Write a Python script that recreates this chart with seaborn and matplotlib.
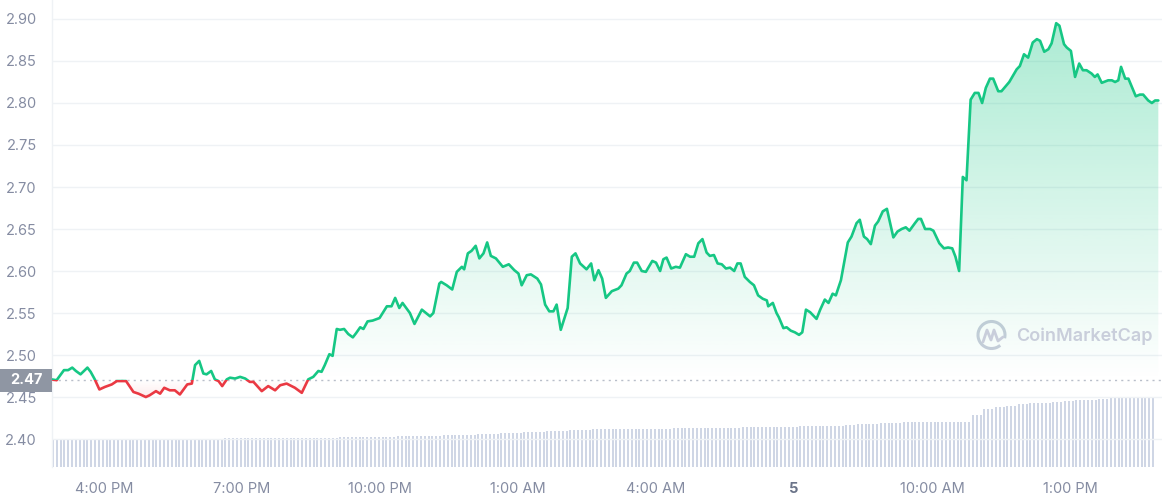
import numpy as np
import matplotlib
matplotlib.use("Agg")
import matplotlib.pyplot as plt
import matplotlib.transforms as mtransforms
from matplotlib.patches import Rectangle, Polygon, Arc
from matplotlib.lines import Line2D
import seaborn as sns

# price, hours counted from 4:00 PM
hours = [-1.14, -1.03, -0.87, -0.78, -0.69, -0.61, -0.51, -0.36, -0.29, -0.20,
         -0.10, 0.02, 0.17, 0.28, 0.36, 0.48, 0.64, 0.75, 0.91, 0.99,
         1.13, 1.22, 1.31, 1.43, 1.54, 1.65, 1.81, 1.91, 1.98, 2.07,
         2.16, 2.23, 2.33, 2.41, 2.49, 2.57, 2.67, 2.74, 2.85, 2.96,
         3.07, 3.17, 3.25, 3.43, 3.57, 3.72, 3.83, 3.97, 4.15, 4.30,
         4.44, 4.55, 4.66, 4.73, 4.80, 4.90, 4.97, 5.06, 5.13, 5.22,
         5.31, 5.41, 5.48, 5.57, 5.64, 5.73, 5.84, 5.99, 6.15, 6.25,
         6.33, 6.42, 6.49, 6.65, 6.75, 6.91, 7.00, 7.09, 7.16, 7.29,
         7.33, 7.45, 7.57, 7.67, 7.78, 7.83, 7.91, 7.99, 8.08, 8.16,
         8.25, 8.33, 8.41, 8.52, 8.67, 8.80, 8.92, 9.01, 9.08, 9.19,
         9.28, 9.42, 9.50, 9.59, 9.68, 9.77, 9.84, 9.93, 10.00, 10.08,
         10.17, 10.25, 10.35, 10.49, 10.59, 10.66, 10.75, 10.83, 10.91, 11.04,
         11.18, 11.25, 11.36, 11.43, 11.52, 11.59, 11.69, 11.78, 11.92, 12.00,
         12.09, 12.16, 12.23, 12.33, 12.43, 12.52, 12.65, 12.74, 12.83, 12.92,
         13.01, 13.10, 13.17, 13.26, 13.34, 13.43, 13.52, 13.61, 13.70, 13.77,
         13.84, 13.93, 14.04, 14.13, 14.22, 14.32, 14.41, 14.44, 14.54, 14.62,
         14.67, 14.77, 14.84, 14.93, 15.02, 15.11, 15.18, 15.26, 15.35, 15.49,
         15.57, 15.67, 15.75, 15.84, 15.91, 16.02, 16.17, 16.25, 16.36, 16.43,
         16.52, 16.59, 16.67, 16.76, 16.83, 16.93, 17.02, 17.16, 17.25, 17.34,
         17.43, 17.51, 17.63, 17.70, 17.76, 17.85, 17.96, 18.03, 18.16, 18.26,
         18.35, 18.44, 18.51, 18.59, 18.67, 18.75, 18.84, 18.93, 19.01, 19.09,
         19.17, 19.26, 19.33, 19.44, 19.51, 19.68, 19.84, 19.91, 20.00, 20.09,
         20.19, 20.28, 20.35, 20.44, 20.53, 20.60, 20.70, 20.77, 20.87, 20.93,
         21.02, 21.11, 21.20, 21.28, 21.36, 21.47, 21.54, 21.60, 21.69, 21.83,
         21.91, 21.98, 22.05, 22.11, 22.20, 22.27, 22.43, 22.52, 22.59, 22.70,
         22.78, 22.85, 22.92]

price = [2.471, 2.470, 2.482, 2.482, 2.485, 2.481, 2.477, 2.485, 2.480, 2.471,
         2.459, 2.462, 2.465, 2.469, 2.469, 2.469, 2.456, 2.454, 2.450, 2.452,
         2.457, 2.454, 2.461, 2.458, 2.458, 2.453, 2.465, 2.466, 2.488, 2.493,
         2.478, 2.477, 2.481, 2.471, 2.469, 2.463, 2.471, 2.473, 2.472, 2.474,
         2.472, 2.468, 2.468, 2.457, 2.463, 2.458, 2.464, 2.466, 2.461, 2.455,
         2.471, 2.474, 2.481, 2.480, 2.488, 2.501, 2.499, 2.531, 2.530, 2.531,
         2.525, 2.521, 2.526, 2.533, 2.531, 2.540, 2.541, 2.544, 2.558, 2.558,
         2.568, 2.556, 2.562, 2.550, 2.537, 2.554, 2.550, 2.546, 2.550, 2.585,
         2.587, 2.583, 2.578, 2.599, 2.605, 2.602, 2.621, 2.624, 2.630, 2.615,
         2.621, 2.634, 2.618, 2.615, 2.605, 2.608, 2.601, 2.597, 2.583, 2.595,
         2.596, 2.591, 2.584, 2.560, 2.552, 2.552, 2.560, 2.530, 2.542, 2.556,
         2.617, 2.621, 2.609, 2.602, 2.609, 2.589, 2.601, 2.591, 2.568, 2.576,
         2.579, 2.583, 2.597, 2.600, 2.610, 2.610, 2.600, 2.599, 2.612, 2.610,
         2.600, 2.614, 2.616, 2.603, 2.605, 2.604, 2.620, 2.617, 2.617, 2.633,
         2.638, 2.622, 2.618, 2.619, 2.609, 2.608, 2.603, 2.604, 2.600, 2.609,
         2.609, 2.593, 2.587, 2.583, 2.571, 2.567, 2.565, 2.558, 2.562, 2.550,
         2.545, 2.532, 2.533, 2.529, 2.527, 2.524, 2.527, 2.554, 2.551, 2.543,
         2.554, 2.566, 2.562, 2.573, 2.571, 2.589, 2.634, 2.641, 2.657, 2.661,
         2.641, 2.638, 2.632, 2.654, 2.659, 2.671, 2.674, 2.640, 2.647, 2.650,
         2.652, 2.648, 2.657, 2.662, 2.662, 2.650, 2.650, 2.648, 2.633, 2.627,
         2.628, 2.627, 2.617, 2.600, 2.712, 2.708, 2.804, 2.812, 2.812, 2.800,
         2.818, 2.829, 2.829, 2.814, 2.814, 2.825, 2.840, 2.844, 2.858, 2.854,
         2.872, 2.876, 2.874, 2.861, 2.864, 2.871, 2.895, 2.892, 2.870, 2.866,
         2.862, 2.831, 2.847, 2.839, 2.839, 2.835, 2.831, 2.834, 2.824, 2.827,
         2.827, 2.825, 2.827, 2.843, 2.829, 2.829, 2.808, 2.810, 2.810, 2.803,
         2.800, 2.803, 2.803]

open_price = 2.47

# volume (arbitrary units), one reading per quarter hour, bars are 5 min
volume_quarter = [277, 277, 277, 277, 277, 277, 277, 277, 277, 277,
                  277, 277, 277, 277, 285, 287, 290, 290, 290, 290,
                  290, 290, 290, 290, 293, 300, 303, 303, 303, 305,
                  308, 308, 310, 314, 320, 322, 325, 330, 335, 338,
                  342, 348, 355, 358, 362, 368, 375, 376, 378, 380,
                  383, 384, 385, 385, 386, 387, 388, 390, 393, 395,
                  396, 400, 403, 404, 405, 406, 408, 410, 412, 425,
                  432, 434, 436, 442, 447, 449, 450, 450, 450, 455,
                  520, 580, 605, 615, 628, 636, 645, 652, 660, 666,
                  672, 680, 688, 692, 695, 697]

tick_hours = [0, 3, 6, 9, 12, 15, 18, 21]
tick_labels = ["4:00 PM", "7:00 PM", "10:00 PM", "1:00 AM", "4:00 AM", "5", "10:00 AM", "1:00 PM"]
price_ticks = [2.40, 2.45, 2.50, 2.55, 2.60, 2.65, 2.70, 2.75, 2.80, 2.85, 2.90]

GREEN = "#16c784"
RED = "#ea3943"
LABEL = "#858ca2"

sns.set_style("white")
plt.rcParams["font.family"] = ["Inter", "DejaVu Sans"]

W, H = 1162, 500
fig = plt.figure(figsize=(W / 100, H / 100), dpi=100)
ax = fig.add_axes([52 / W, 33 / H, 1 - 52 / W, 467 / H])

xmin, xmax = -1.13, 23.0
ymin, ymax = 2.3667, 2.9226

# volume on a twin axis, bottom band
ax2 = ax.twinx()
bar_hours = -1.11 + np.arange(len(volume_quarter) * 3) / 12
vol = np.repeat(volume_quarter, 3)
ax2.bar(bar_hours, vol, width=0.042, color="#cfd6e5", linewidth=0, zorder=1)
ax2.set_ylim(0, 4670)
ax2.set_yticks([])
for s in ax2.spines.values():
    s.set_visible(False)
ax.set_zorder(ax2.get_zorder() + 1)
ax.patch.set_visible(False)

# gradient fill between price line and open price
x = np.array(hours)
y = np.array(price)
ys = np.linspace(ymin, ymax, 600)
grad = np.zeros((len(ys), 1, 4))
up = ys >= open_price
g = matplotlib.colors.to_rgb(GREEN)
r = matplotlib.colors.to_rgb(RED)
grad[up, 0, :3] = g
grad[up, 0, 3] = 0.36 * (ys[up] - open_price) / (2.90 - open_price)
grad[~up, 0, :3] = r
grad[~up, 0, 3] = np.clip(0.10 * (open_price - ys[~up]) / 0.02, 0, 0.10)
im = ax.imshow(grad, extent=[xmin, xmax, ymin, ymax], aspect="auto",
               origin="lower", zorder=1, interpolation="bilinear")
poly = Polygon([(x[0], open_price)] + list(zip(x, y)) + [(x[-1], open_price)],
               closed=True, transform=ax.transData, facecolor="none", edgecolor="none")
ax.add_patch(poly)
im.set_clip_path(poly)

# price line, green above the open and red below
sns.lineplot(x=x, y=y, color=GREEN, linewidth=1.9, ax=ax, zorder=3)
ln_up = ax.lines[-1]
sns.lineplot(x=x, y=y, color=RED, linewidth=1.9, ax=ax, zorder=3)
ln_dn = ax.lines[-1]
clip_up = Rectangle((xmin, open_price), xmax - xmin, ymax - open_price, transform=ax.transData)
clip_dn = Rectangle((xmin, ymin), xmax - xmin, open_price - ymin, transform=ax.transData)
ln_up.set_clip_path(clip_up)
ln_dn.set_clip_path(clip_dn)
for ln in (ln_up, ln_dn):
    ln.set_solid_capstyle("round")
    ln.set_solid_joinstyle("round")

ax.axhline(open_price, color="#b9bfca", linewidth=1, linestyle=(0, (1.5, 3)), zorder=2)

ax.set_xlim(xmin, xmax)
ax.set_ylim(ymin, ymax)
ax.set_yticks(price_ticks)
ax.set_yticklabels([f"{p:.2f}" for p in price_ticks])
ax.set_xticks(tick_hours)
ax.set_xticklabels(tick_labels)
ax.yaxis.grid(True, color="#eff2f5", linewidth=1)
ax.xaxis.grid(False)
ax.set_axisbelow(True)
ax.tick_params(axis="y", length=0, pad=11, labelsize=10.5, labelcolor=LABEL)
ax.tick_params(axis="x", length=4, width=1, color="#a9afbd", pad=7, labelsize=10.5, labelcolor=LABEL)
for lbl in ax.get_xticklabels():
    if lbl.get_text() == "5":
        lbl.set_fontweight("bold")
        lbl.set_color("#6b7489")
ax.set_xlabel("")
ax.set_ylabel("")
for side in ("top", "right", "bottom"):
    ax.spines[side].set_visible(False)
ax.spines["left"].set_color("#eff2f5")
ax.spines["left"].set_linewidth(1)

# current open price marker on the axis
blend = mtransforms.blended_transform_factory(fig.transFigure, ax.transData)
box_h = 23 * (ymax - ymin) / 467
ax.add_patch(Rectangle((0, open_price - box_h / 2), 52 / W, box_h, transform=blend,
                       facecolor="#8f96a3", edgecolor="none", clip_on=False, zorder=10))
ax.text(26 / W, open_price, "2.47", transform=blend, ha="center", va="center",
        color="white", fontsize=10.5, fontweight="bold", zorder=11, clip_on=False)

# watermark
def px(px_x, px_y):
    return px_x / W, 1 - px_y / H

wm = "#c9cedb"
fig.text(*px(1016, 336), "CoinMarketCap", ha="left", va="center", color=wm,
         fontsize=13, fontweight="semibold")
fig.add_artist(Arc(px(991.5, 335), 27 / W, 27 / H, theta1=-30, theta2=290,
                   color=wm, linewidth=2.2, transform=fig.transFigure))
mx = [983, 987, 991, 994, 998, 1003]
my = [342, 330, 340, 330, 341, 337]
fig.add_artist(Line2D([px(a, b)[0] for a, b in zip(mx, my)],
                      [px(a, b)[1] for a, b in zip(mx, my)],
                      color=wm, linewidth=2.0, transform=fig.transFigure,
                      solid_joinstyle="round", solid_capstyle="round"))

fig.savefig("out.png", dpi=100)
